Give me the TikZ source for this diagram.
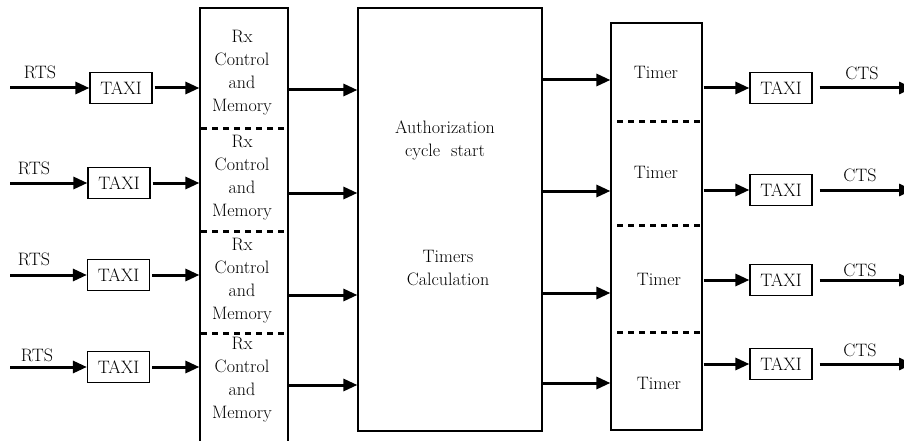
\documentclass[tikz,border=0pt]{standalone}
\usetikzlibrary{arrows.meta}
\begin{document}
\begin{tikzpicture}[x=1pt,y=-1pt,
  lbl/.style={font=\fontsize{18}{23}\selectfont, inner sep=0pt, align=center},
  box/.style={draw, line width=1.2pt, inner sep=0pt},
  taxi/.style={box, minimum width=62pt, minimum height=31pt, font=\fontsize{18}{22}\selectfont},
  arr/.style={line width=3pt, -{Triangle[length=14pt,width=12pt]}},
  sepline/.style={line width=3pt, dash pattern=on 6pt off 5pt}
]
\useasboundingbox (0,0) rectangle (904,441);

% big blocks
\node[box, minimum width=88pt, minimum height=442pt] (rx) at (244,229) {};
\node[box, minimum width=184pt, minimum height=423pt] (auth) at (450,219.5) {};
\node[box, minimum width=91pt, minimum height=407pt] (timer) at (656.5,226.5) {};

% Rx texts
\node[lbl] (rxt1) at (242,72.5) {Rx\\Control\\and\\Memory};
\node[lbl] (rxt2) at (242,178) {Rx\\Control\\and\\Memory};
\node[lbl] (rxt3) at (242,281) {Rx\\Control\\and\\Memory};
\node[lbl] (rxt4) at (242,380) {Rx\\Control\\and\\Memory};

% Rx separators
\coordinate (rs1) at (0,128);
\coordinate (rs2) at (0,231);
\coordinate (rs3) at (0,333);
\foreach \s in {rs1,rs2,rs3}
  \draw[sepline] ([xshift=2pt]rx.west |- \s) -- (rx.east |- \s);

% Auth texts
\node[lbl] (autht) at (445,140) {Authorization\\cycle\ \ start};
\node[lbl] (timt) at (448,268) {Timers\\Calculation};

% Timer texts
\node[lbl] (tm1) at (656,72) {Timer};
\node[lbl] (tm2) at (656,172) {Timer};
\node[lbl] (tm3) at (659,279) {Timer};
\node[lbl] (tm4) at (659,383) {Timer};

% Timer separators
\coordinate (ts1) at (0,122);
\coordinate (ts2) at (0,225);
\coordinate (ts3) at (0,332);
\foreach \s in {ts1,ts2,ts3}
  \draw[sepline] ([xshift=7pt]timer.west |- \s) -- (timer.east |- \s);

% left TAXI boxes and RTS inputs
\node[taxi] (tl1) at (121,88) {TAXI};
\node[taxi] (tl2) at (119,183) {TAXI};
\node[taxi] (tl3) at (118.5,275) {TAXI};
\node[taxi] (tl4) at (118.5,367) {TAXI};

\coordinate (in1) at (10,88);
\coordinate (in2) at (10,183);
\coordinate (in3) at (10,275);
\coordinate (in4) at (10,367);

\node[lbl] (rts1) at (40,72) {RTS};
\node[lbl] (rts2) at (34,168) {RTS};
\node[lbl] (rts3) at (34,259) {RTS};
\node[lbl] (rts4) at (37,355) {RTS};

\foreach \i in {1,2,3,4} {
  \draw[arr] (in\i) -- (tl\i.west);
  \draw[arr, shorten <=2pt] (tl\i.east) -- (tl\i.east -| rx.west);
}

% Rx -> Auth
\coordinate (ra1) at (0,90);
\coordinate (ra2) at (0,193);
\coordinate (ra3) at (0,295);
\coordinate (ra4) at (0,385);
\foreach \i in {1,2,3,4}
  \draw[arr] (rx.east |- ra\i) -- (auth.west |- ra\i);

% Auth -> Timer
\coordinate (at1) at (0,80);
\coordinate (at2) at (0,191);
\coordinate (at3) at (0,293);
\coordinate (at4) at (0,383);
\foreach \i in {1,2,3,4}
  \draw[arr] (auth.east |- at\i) -- (timer.west |- at\i);

% right TAXI boxes and CTS outputs
\node[taxi] (tr1) at (781,88) {TAXI};
\node[taxi] (tr2) at (781,190) {TAXI};
\node[taxi] (tr3) at (781,280) {TAXI};
\node[taxi] (tr4) at (781,364) {TAXI};

\node[lbl] (cts1) at (862,73) {CTS};
\node[lbl] (cts2) at (860,175) {CTS};
\node[lbl] (cts3) at (860,270) {CTS};
\node[lbl] (cts4) at (860,350) {CTS};

\coordinate (cend) at (913,0);
\foreach \i in {1,2,3,4} {
  \draw[arr, shorten <=1pt] (tr\i.west -| timer.east) -- (tr\i.west);
  \draw[arr, shorten <=7pt] (tr\i.east) -- (tr\i.east -| cend);
}
\end{tikzpicture}
\end{document}
